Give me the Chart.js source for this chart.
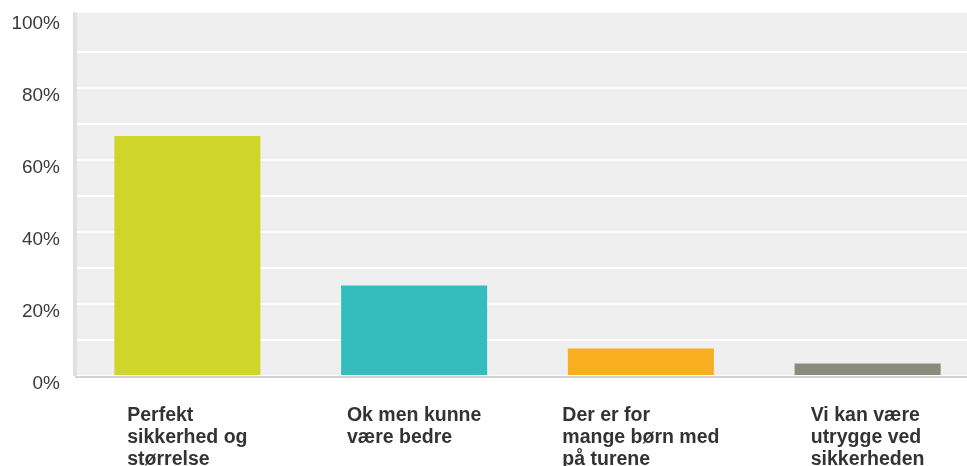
<!DOCTYPE html>
<html>
<head>
<meta charset="utf-8">
<script src="https://cdn.jsdelivr.net/npm/chart.js@4.4.1/dist/chart.umd.min.js"></script>
<style>
  html, body { margin: 0; padding: 0; background: #fff; overflow: hidden; }
  #wrap { width: 981px; height: 466px; position: relative; }
</style>
</head>
<body>
<div id="wrap"><canvas id="answers"></canvas></div>
<script>
// Answer categories (each split into the lines shown under the bar)
const categories = [
    ['Perfekt', 'sikkerhed og', 'størrelse'],
    ['Ok men kunne', 'være bedre'],
    ['Der er for', 'mange børn med', 'på turene'],
    ['Vi kan være', 'utrygge ved', 'sikkerheden']
];
// Share of respondents, in percent
const shares = [66.6, 25.1, 7.6, 3.5];
const barColors = ['#cfd52a', '#33bdbd', '#f7af1f', '#8a8b7a'];
// Y axis: gridline every 10, label every 20
const yMax = 100;
const yStep = 10;
const yLabelEvery = 20;

const LABEL_FONT = 'bold 19.5px "Liberation Sans", Arial, sans-serif';
const LABEL_COLOR = '#333333';

// Plot background, left border and baseline
const plotFrame = {
    id: 'plotFrame',
    beforeDraw(chart) {
        const { ctx, chartArea: a } = chart;
        ctx.save();
        ctx.fillStyle = '#efefef';
        ctx.fillRect(a.left, a.top - 3, a.right - a.left, a.bottom - a.top + 3);
        ctx.restore();
    },
    afterDatasetsDraw(chart) {
        const { ctx, chartArea: a } = chart;
        ctx.save();
        ctx.fillStyle = '#e0e0e0';
        ctx.fillRect(a.left - 1, a.top - 3, 4, a.bottom - a.top + 3);
        ctx.fillStyle = '#d3d3d3';
        ctx.fillRect(a.left + 1, a.bottom, a.right - a.left, 2);
        ctx.restore();
    }
};

// Category labels: a block centred under the bar, lines left-aligned inside it
const categoryLabels = {
    id: 'categoryLabels',
    afterDraw(chart) {
        const { ctx } = chart;
        const xs = chart.scales.x;
        const top = chart.chartArea.bottom;
        ctx.save();
        ctx.font = LABEL_FONT;
        ctx.fillStyle = LABEL_COLOR;
        ctx.textAlign = 'left';
        ctx.textBaseline = 'alphabetic';
        categories.forEach(function (lines, i) {
            const cx = xs.getPixelForValue(i);
            const w = Math.max.apply(null, lines.map(l => ctx.measureText(l).width));
            const left = cx - w / 2;
            lines.forEach(function (line, j) {
                ctx.fillText(line, left, top + 45 + j * 22);
            });
        });
        ctx.restore();
    }
};

new Chart(document.getElementById('answers').getContext('2d'), {
    type: 'bar',
    data: {
        labels: categories.map(l => l.join(' ')),
        datasets: [{
            data: shares,
            backgroundColor: barColors,
            borderWidth: 0,
            barPercentage: 0.644,
            categoryPercentage: 1
        }]
    },
    options: {
        responsive: true,
        maintainAspectRatio: false,
        animation: false,
        layout: { padding: { top: 15.5, right: 0, left: 0, bottom: 0 } },
        plugins: {
            legend: { display: false },
            tooltip: { enabled: false }
        },
        scales: {
            x: {
                grid: { display: false },
                border: { display: false },
                ticks: { display: false },
                afterFit(scale) { scale.height = 90; }
            },
            y: {
                min: 0,
                max: yMax,
                grid: {
                    color: c => (c.tick && c.tick.value === yMax ? 'rgba(0,0,0,0)' : '#ffffff'),
                    lineWidth: 2,
                    drawTicks: false
                },
                border: { display: false },
                ticks: {
                    stepSize: yStep,
                    autoSkip: false,
                    padding: 14,
                    labelOffset: 8,
                    color: '#3a3a3a',
                    font: { family: '"Liberation Sans", Arial, sans-serif', size: 19 },
                    callback: v => (v % yLabelEvery === 0 ? v + '%' : '')
                },
                afterFit(scale) {
                    scale.width = 74;
                    scale.paddingTop = 0;
                    scale.paddingBottom = 0;
                }
            }
        }
    },
    plugins: [plotFrame, categoryLabels]
});
</script>
</body>
</html>
